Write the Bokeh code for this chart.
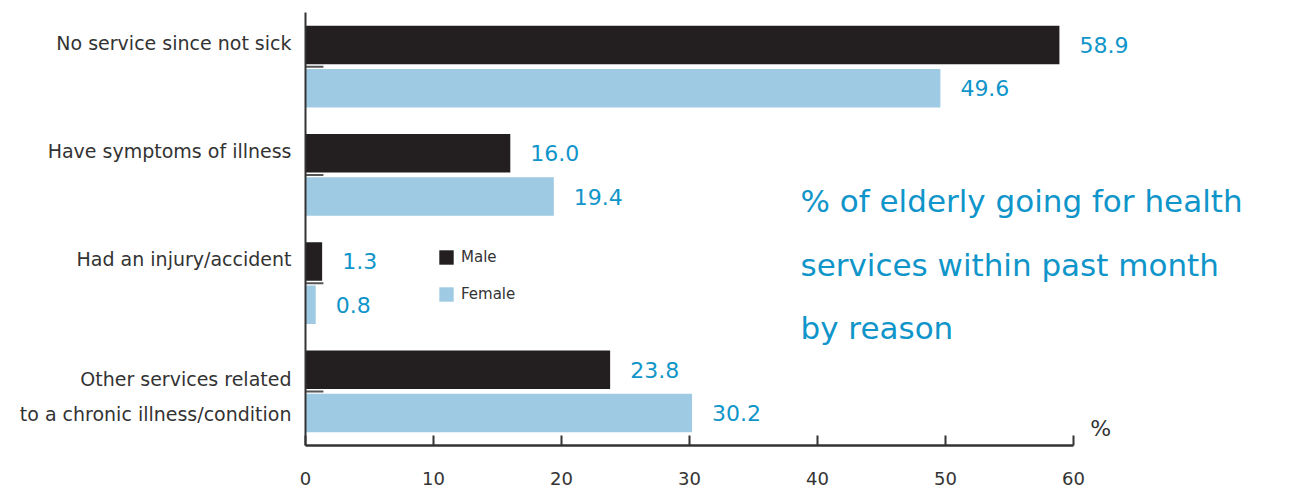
from bokeh.plotting import figure
from bokeh.models import Range1d, FixedTicker, Label, Legend, LegendItem, ColumnDataSource
from bokeh.embed import file_html
from bokeh.resources import INLINE
from bokeh.core.properties import value

# ---- data ----
categories = [
    "No service since not sick",
    "Have symptoms of illness",
    "Had an injury/accident",
    "Other services related\nto a chronic illness/condition",
]
male = [58.9, 16.0, 1.3, 23.8]
female = [49.6, 19.4, 0.8, 30.2]
x_ticks = [0, 10, 20, 30, 40, 50, 60]
series_names = ["Male", "Female"]
title_lines = ["% of elderly going for health", "services within past month", "by reason"]
unit_label = "%"

# ---- style ----
MALE_C = "#231f20"
FEMALE_C = "#9fcae4"
BLUE = "#0f95c9"
TXT = "#333333"
FONT = "DejaVu Sans"
PX_PER_UNIT = 12.8
W, H = 1305, 492
LEFT, TOP, BOTTOM = 305, 12, 445

idx = list(range(len(categories)))
male_y = [i + 0.3 for i in idx]
female_y = [i + 0.7 for i in idx]
label_ticks = [i + 0.28 for i in idx[:-1]] + [idx[-1] + 0.55]

p = figure(width=W, height=H, output_backend="svg", toolbar_location=None,
           x_range=Range1d(0, (W - LEFT) / PX_PER_UNIT), y_range=Range1d(4, 0),
           min_border_left=LEFT, min_border_right=0, min_border_top=TOP,
           min_border_bottom=H - BOTTOM)
p.outline_line_color = None
p.xgrid.visible = False
p.ygrid.visible = False
p.background_fill_color = "white"

src_m = ColumnDataSource(dict(y=male_y, v=male, t=[f"{v:.1f}" for v in male]))
src_f = ColumnDataSource(dict(y=female_y, v=female, t=[f"{v:.1f}" for v in female]))

rm = p.hbar(y="y", right="v", left=0, height=0.355, source=src_m, fill_color=MALE_C, line_color=None)
rf = p.hbar(y="y", right="v", left=0, height=0.355, source=src_f, fill_color=FEMALE_C, line_color=None)

# small marks between the bars of each group at the axis
p.segment(x0=[0] * len(idx), x1=[1.4] * len(idx), y0=[i + 0.5 for i in idx], y1=[i + 0.5 for i in idx],
          line_color="#555555", line_width=2)

for src in (src_m, src_f):
    p.text(x="v", y="y", text="t", source=src, x_offset=20, text_baseline="middle",
           text_color=BLUE, text_font_size="22px", text_font=value(FONT))

# x axis
xa = p.xaxis[0]
xa.ticker = FixedTicker(ticks=x_ticks)
xa.bounds = (0, 60)
xa.major_tick_in = 10
xa.major_tick_out = 0
xa.major_tick_line_width = 2
xa.major_tick_line_color = TXT
xa.minor_tick_line_color = None
xa.axis_line_width = 2.5
xa.axis_line_color = TXT
xa.major_label_text_font = FONT
xa.major_label_text_font_size = "18px"
xa.major_label_text_color = TXT
xa.major_label_standoff = 26

# y axis
ya = p.yaxis[0]
ya.ticker = FixedTicker(ticks=label_ticks)
ya.major_label_overrides = {t: c for t, c in zip(label_ticks, categories)}
ya.major_tick_line_color = None
ya.minor_tick_line_color = None
ya.axis_line_width = 2
ya.axis_line_color = TXT
ya.major_label_text_font = FONT
ya.major_label_text_font_size = "19px"
ya.major_label_text_color = TXT
ya.major_label_standoff = 8
ya.major_label_text_line_height = 1.6

legend = Legend(items=[LegendItem(label=series_names[0], renderers=[rm]),
                       LegendItem(label=series_names[1], renderers=[rf])],
                location=(132, 142), glyph_width=18, glyph_height=18, label_height=18,
                spacing=19, padding=0, margin=0, border_line_color=None,
                background_fill_alpha=0, label_text_font_size="15px",
                label_text_font=FONT, label_text_color=TXT, label_standoff=6)
p.add_layout(legend)

title_y0 = 1.737
for k, line in enumerate(title_lines):
    p.add_layout(Label(x=38.67, y=title_y0 + 0.591 * k, text=line, text_baseline="middle",
                       text_color=BLUE, text_font_size="31px", text_font=FONT))

p.add_layout(Label(x=61.3, y=3.843, text=unit_label, text_baseline="middle",
                   text_color=TXT, text_font_size="22px", text_font=FONT))

open("out.html", "w").write(file_html(p, INLINE))
